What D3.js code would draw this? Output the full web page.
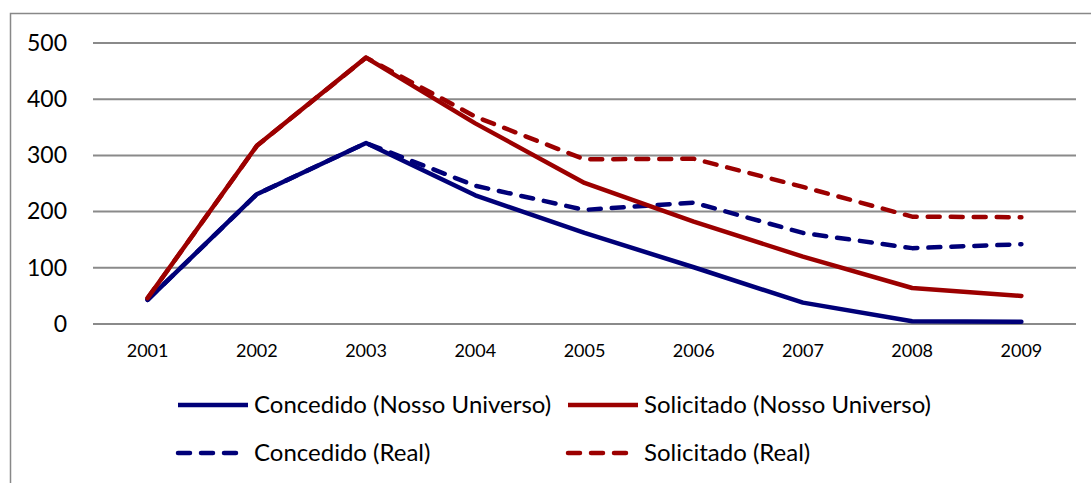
<!DOCTYPE html>
<html>
<head>
<meta charset="utf-8">
<script src="https://cdn.jsdelivr.net/npm/d3@7"></script>
<style>
  body { margin: 0; background: #fff; }
  text { font-family: Lato, "Open Sans", sans-serif; fill: #000; }
</style>
</head>
<body>
<svg width="1091" height="483"></svg>
<script>
var years = ["2001", "2002", "2003", "2004", "2005", "2006", "2007", "2008", "2009"];
var yTicks = [0, 100, 200, 300, 400, 500];

var concedidoNosso = [43, 231, 322, 229, 162, 101, 38, 5, 4];
var solicitadoNosso = [46, 317, 474, 357, 251, 182, 120, 64, 50];
var concedidoReal = [43, 231, 322, 246, 203, 216, 162, 135, 142];
var solicitadoReal = [46, 317, 474, 369, 293, 294, 244, 191, 190];

var seriesNames = ["Concedido (Nosso Universo)", "Solicitado (Nosso Universo)", "Concedido (Real)", "Solicitado (Real)"];

var navy = "#000078", red = "#9c0000";

var svg = d3.select("svg");

// outer frame, runs off the right and bottom edges
svg.append("rect")
  .attr("x", 10.5).attr("y", 13.5)
  .attr("width", 1200).attr("height", 600)
  .attr("fill", "none")
  .attr("stroke", "#888")
  .attr("stroke-width", 1.5);

var x = d3.scaleBand().domain(years).range([93, 1076]);
var y = d3.scaleLinear().domain([0, 500]).range([324, 43]);

// gridlines
svg.append("g")
  .selectAll("line")
  .data(yTicks)
  .enter().append("line")
    .attr("x1", 93).attr("x2", 1076)
    .attr("y1", function(d) { return y(d); })
    .attr("y2", function(d) { return y(d); })
    .attr("stroke", "#8a8a8a")
    .attr("stroke-width", 2);

var yAxis = svg.append("g")
  .attr("transform", "translate(69,0)")
  .call(d3.axisLeft(y).tickValues(yTicks).tickSize(0).tickPadding(2));
yAxis.select(".domain").remove();
yAxis.selectAll("text")
  .style("font-size", "23px")
  .attr("fill", "#000");

var xAxis = svg.append("g")
  .attr("transform", "translate(0,340)")
  .call(d3.axisBottom(x).tickSize(0).tickPadding(4));
xAxis.select(".domain").remove();
xAxis.selectAll("text")
  .style("font-size", "18px")
  .attr("fill", "#000");

var dashPattern = "12,11";

var lines = [
  { values: concedidoNosso, color: navy, dash: null },
  { values: solicitadoNosso, color: red, dash: null },
  { values: concedidoReal, color: navy, dash: dashPattern },
  { values: solicitadoReal, color: red, dash: dashPattern }
];

var line = d3.line()
  .x(function(d, i) { return x(years[i]) + x.bandwidth() / 2; })
  .y(function(d) { return y(d); });

// draw dashed first so solid lines lie on top
[2, 3, 0, 1].forEach(function(k) {
  var s = lines[k];
  svg.append("path")
    .attr("d", line(s.values))
    .attr("fill", "none")
    .attr("stroke", s.color)
    .attr("stroke-width", 4.5)
    .attr("stroke-linejoin", "round")
    .attr("stroke-linecap", "round")
    .attr("stroke-dasharray", s.dash);
});

// legend
var legendPos = [[178, 405], [568, 405], [178, 453], [568, 453]];
lines.forEach(function(s, i) {
  var g = svg.append("g").attr("transform", "translate(" + legendPos[i][0] + "," + legendPos[i][1] + ")");
  if (s.dash) {
    g.append("line")
      .attr("x1", 0).attr("x2", 58)
      .attr("stroke", s.color).attr("stroke-width", 4.5)
      .attr("stroke-linecap", "round")
      .attr("stroke-dasharray", dashPattern);
  } else {
    g.append("line")
      .attr("x1", 0).attr("x2", 70)
      .attr("stroke", s.color).attr("stroke-width", 4.5);
  }
  g.append("text")
    .attr("x", 76)
    .attr("dy", "0.35em")
    .style("font-size", "24px")
    .text(seriesNames[i]);
});
</script>
</body>
</html>
